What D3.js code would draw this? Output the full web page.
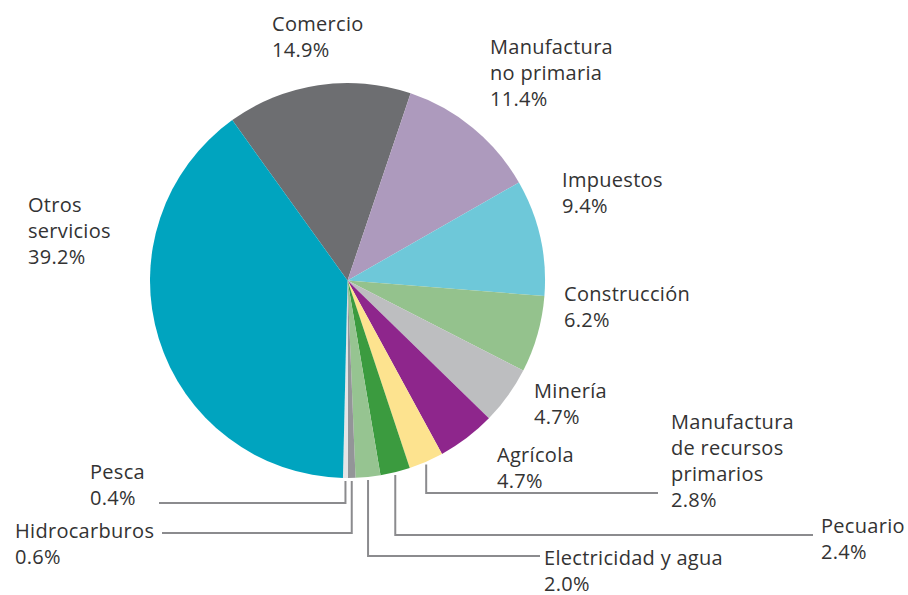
<!DOCTYPE html>
<html>
<head>
<meta charset="utf-8">
<script src="https://cdn.jsdelivr.net/npm/d3@7"></script>
<style>
	body { margin: 0; background: #fff; }
	svg text { font-family: "Open Sans", sans-serif; font-size: 20px; letter-spacing: 0.3px; fill: #333; }
</style>
</head>
<body>
<svg id="canvas" width="908" height="595"></svg>
<script>
// sectors, clockwise from Comercio
var sectors = ["Comercio", "Manufactura no primaria", "Impuestos", "Construcción", "Minería", "Agrícola",
	"Manufactura de recursos primarios", "Pecuario", "Electricidad y agua", "Hidrocarburos", "Pesca", "Otros servicios"];
var shares = [14.9, 11.4, 9.4, 6.2, 4.7, 4.7, 2.8, 2.4, 2.0, 0.6, 0.4, 39.2];
var labelLines = [["Comercio"], ["Manufactura", "no primaria"], ["Impuestos"], ["Construcción"], ["Minería"], ["Agrícola"],
	["Manufactura", "de recursos", "primarios"], ["Pecuario"], ["Electricidad y agua"], ["Hidrocarburos"], ["Pesca"], ["Otros", "servicios"]];
var colors = ["#6d6e71", "#ad9abd", "#6ec8d9", "#94c28d", "#bdbec0", "#8e268c",
	"#fde38f", "#3b9b3f", "#96c491", "#939598", "#e4e5e6", "#00a4bf"];

// where each label sits (x, first baseline) and, for small slices, the elbow of the leader
var labelPos = {
	"Comercio": [272, 31],
	"Manufactura no primaria": [490, 54],
	"Impuestos": [562, 187],
	"Construcción": [564, 301],
	"Minería": [534, 398],
	"Agrícola": [497, 462],
	"Manufactura de recursos primarios": [671, 429],
	"Pecuario": [821, 533],
	"Electricidad y agua": [544, 565],
	"Hidrocarburos": [15, 538],
	"Pesca": [90, 479],
	"Otros servicios": [28, 212]
};
var leaders = {
	"Manufactura de recursos primarios": {y: 493, x: 658},
	"Pecuario": {y: 535, x: 813},
	"Electricidad y agua": {y: 556, x: 540},
	"Hidrocarburos": {y: 533, x: 162},
	"Pesca": {y: 503, x: 159}
};

var cx = 347.5, cy = 280.5, radius = 197.5;
var lineH = 26;
var start = -35.7 * Math.PI / 180;

var svg = d3.select("#canvas");
var g = svg.append("g").attr("transform", "translate(" + cx + "," + cy + ")");

var pie = d3.pie().sort(null).startAngle(start).endAngle(start + 2 * Math.PI);
var arcs = pie(shares);
var arc = d3.arc().innerRadius(0).outerRadius(radius);

g.selectAll("path.slice")
	.data(arcs)
	.enter()
	.append("path")
	.attr("class", "slice")
	.attr("d", arc)
	.attr("fill", function(d, i){ return colors[i]; });

// leader lines for the thin slices at the bottom
arcs.forEach(function(d, i){
	var l = leaders[sectors[i]];
	if(!l) return;
	var a = (d.startAngle + d.endAngle) / 2;
	var x = cx + radius * Math.sin(a);
	var y0 = cy - (radius + 3) * Math.cos(a);
	svg.append("path")
		.attr("d", d3.line()([[x, y0], [x, l.y], [l.x, l.y]]))
		.attr("fill", "none")
		.attr("stroke", "#8b8b8e")
		.attr("stroke-width", 2);
});

// labels
sectors.forEach(function(name, i){
	var p = labelPos[name];
	var lines = labelLines[i].concat([shares[i].toFixed(1) + "%"]);
	var t = svg.append("text").attr("x", p[0]).attr("y", p[1]);
	lines.forEach(function(s, k){
		t.append("tspan").attr("x", p[0]).attr("y", p[1] + k * lineH).text(s);
	});
});
</script>
</body>
</html>
